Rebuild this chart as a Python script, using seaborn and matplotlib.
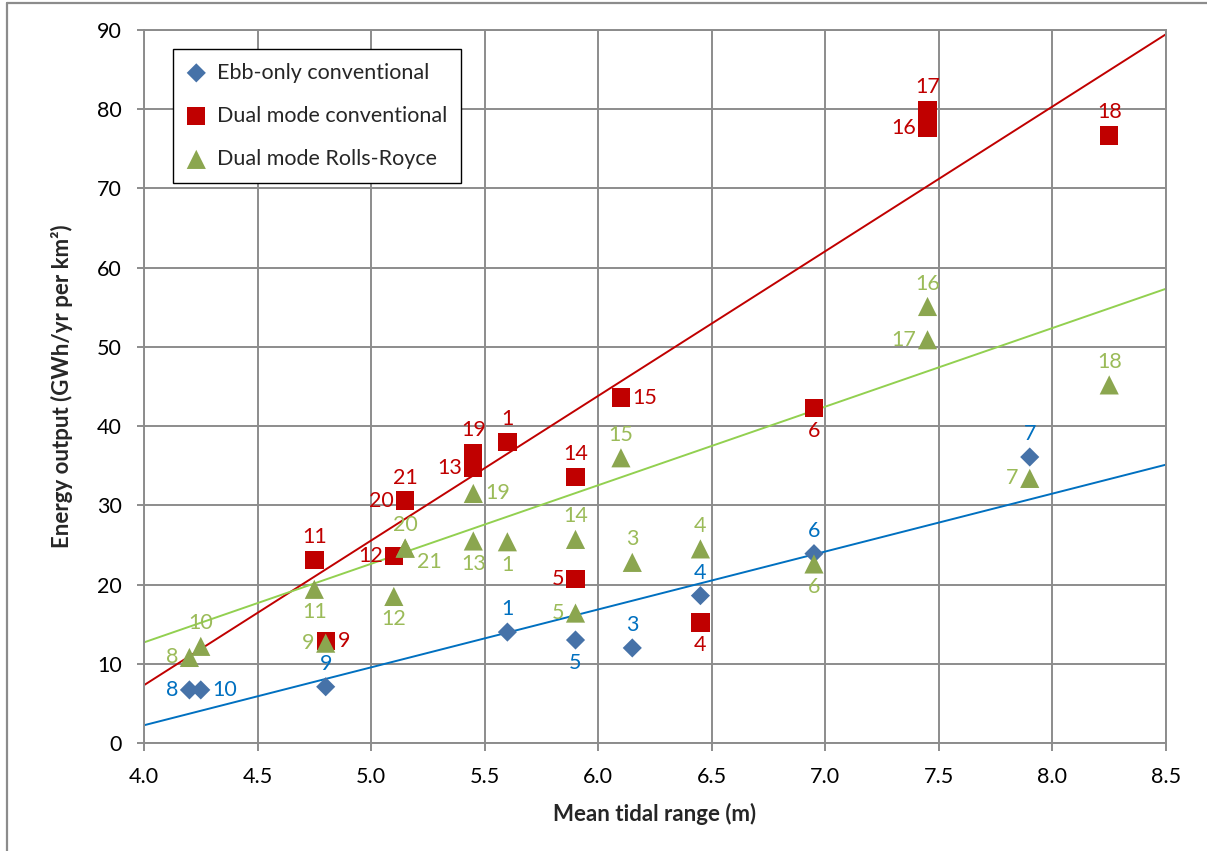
import numpy as np
import matplotlib
matplotlib.use("Agg")
import matplotlib.pyplot as plt
import seaborn as sns
from matplotlib.lines import Line2D

# ---- data: site number, mean tidal range (m), energy output (GWh/yr per km²) ----
ebb_sites = [1, 3, 4, 5, 6, 7, 8, 9, 10]
ebb_range = [5.6, 6.15, 6.45, 5.9, 6.95, 7.9, 4.2, 4.8, 4.25]
ebb_energy = [14.0, 12.0, 18.6, 13.0, 23.9, 36.1, 6.7, 7.1, 6.7]

dual_sites = [1, 4, 5, 6, 9, 11, 12, 13, 14, 15, 16, 17, 18, 19, 20, 21]
dual_range = [5.6, 6.45, 5.9, 6.95, 4.8, 4.75, 5.1, 5.45, 5.9, 6.1, 7.45, 7.45,
              8.25, 5.45, 5.15, 5.15]
dual_energy = [38.0, 15.2, 20.7, 42.3, 12.9, 23.1, 23.6, 34.7, 33.6, 43.6, 77.6,
               79.9, 76.7, 36.6, 30.6, 30.6]

rr_sites = [1, 3, 4, 5, 6, 7, 8, 9, 10, 11, 12, 13, 14, 15, 16, 17, 18, 19, 20, 21]
rr_range = [5.6, 6.15, 6.45, 5.9, 6.95, 7.9, 4.2, 4.8, 4.25, 4.75, 5.1, 5.45,
            5.9, 6.1, 7.45, 7.45, 8.25, 5.45, 5.15, 5.15]
rr_energy = [25.4, 22.8, 24.5, 16.4, 22.6, 33.4, 10.8, 12.6, 12.2, 19.4, 18.5,
             25.5, 25.7, 36.0, 55.1, 50.9, 45.2, 31.5, 24.6, 24.6]

series_names = ["Ebb-only conventional", "Dual mode conventional",
                "Dual mode Rolls-Royce"]

# linear trend lines, energy = slope * range + intercept
trend_slope = [7.31, 18.26, 9.92]
trend_intercept = [-27.0, -65.74, -26.98]

x_ticks = [4.0, 4.5, 5.0, 5.5, 6.0, 6.5, 7.0, 7.5, 8.0, 8.5]
y_ticks = [0, 10, 20, 30, 40, 50, 60, 70, 80, 90]

# ---- label placement for each site number (a=above, b=below, l=left, r=right) ----
ebb_place = {1: "a", 3: "a", 4: "a", 5: "b", 6: "a", 7: "a", 8: "l", 9: "a", 10: "r"}
dual_place = {1: "a", 4: "b", 5: "l", 6: "b", 9: "r", 11: "a", 12: "l", 13: "l",
              14: "a", 15: "r", 16: "l", 17: "a", 18: "a", 19: "a", 20: "l", 21: "a"}
rr_place = {1: "b", 3: "a", 4: "a", 5: "l", 6: "b", 7: "l", 8: "l", 9: "l", 10: "a",
            11: "b", 12: "b", 13: "b", 14: "a", 15: "a", 16: "a", 17: "l", 18: "a",
            19: "r", 20: "a", 21: "rb"}

offsets = {"a": ((0, 16.5), "center", "center"),
           "b": ((0, -16.5), "center", "center"),
           "l": ((-8, 0), "right", "center"),
           "r": ((8.5, 0), "left", "center"),
           "rb": ((8.5, -10), "left", "center")}

sns.set_theme(style="white")
plt.rcParams["font.family"] = ["Lato", "DejaVu Sans"]

GRID = "#8c8c8c"

fig = plt.figure(figsize=(12.07, 8.51), dpi=100)
ax = fig.add_axes([144 / 1207, 1 - 743 / 851, (1166 - 144) / 1207, (743 - 30) / 851])

styles = [
    dict(sites=ebb_sites, x=ebb_range, y=ebb_energy, place=ebb_place, marker="D",
         s=95, face="#4672A8", text="#0070C0", line="#0070C0"),
    dict(sites=dual_sites, x=dual_range, y=dual_energy, place=dual_place, marker="s",
         s=175, face="#C00000", text="#C00000", line="#C00000"),
    dict(sites=rr_sites, x=rr_range, y=rr_energy, place=rr_place, marker="^",
         s=190, face="#8BA64F", text="#9BBB59", line="#92D050"),
]

ax.set_xlim(4.0, 8.5)
ax.set_ylim(0, 90)

for name, st, m, c in zip(series_names, styles, trend_slope, trend_intercept):
    ax.axline((0, c), slope=m, color=st["line"], lw=1.4, zorder=2)
    sns.scatterplot(x=st["x"], y=st["y"], marker=st["marker"], s=st["s"],
                    color=st["face"], edgecolor="none", linewidth=0,
                    label=name, ax=ax, zorder=3)
    for site, xv, yv in zip(st["sites"], st["x"], st["y"]):
        off, ha, va = offsets[st["place"][site]]
        ax.annotate(str(site), (xv, yv), xytext=off, textcoords="offset points",
                    ha=ha, va=va, fontsize=15.5, color=st["text"], zorder=4)

ax.set_xlim(4.0, 8.5)
ax.set_ylim(0, 90)
ax.set_xticks(x_ticks)
ax.set_xticklabels([f"{v:.1f}" for v in x_ticks])
ax.set_yticks(y_ticks)

ax.grid(True, color=GRID, lw=1.4)
ax.set_axisbelow(True)
for sp in ax.spines.values():
    sp.set_color(GRID)
    sp.set_linewidth(1.4)

ax.tick_params(axis="y", direction="out", length=5, width=1.4, color=GRID,
               pad=11, labelsize=15.5, labelcolor="black", left=True)
ax.tick_params(axis="x", direction="out", length=6, width=1.4, color=GRID,
               pad=11, labelsize=15.5, labelcolor="black", bottom=True)

ax.set_xlabel("Mean tidal range (m)", fontsize=16, fontweight="bold", labelpad=12)
ax.set_ylabel("Energy output (GWh/yr per km²)", fontsize=16, fontweight="bold",
              labelpad=17)

leg = ax.legend(loc="upper left", bbox_to_anchor=(0.028, 0.974), fontsize=15.5,
                frameon=True, fancybox=False, edgecolor="black", framealpha=1,
                borderpad=0.65, labelspacing=1.08, handlelength=0.9,
                handletextpad=0.5, borderaxespad=0)
leg.get_frame().set_linewidth(1.0)

# outer chart border
fig.add_artist(Line2D([7 / 1207, 1.0], [1 - 3 / 851, 1 - 3 / 851],
                      color=GRID, lw=1.6, transform=fig.transFigure))
fig.add_artist(Line2D([7 / 1207, 7 / 1207], [0.0, 1 - 3 / 851],
                      color=GRID, lw=1.6, transform=fig.transFigure))

fig.savefig("out.png", dpi=100)
